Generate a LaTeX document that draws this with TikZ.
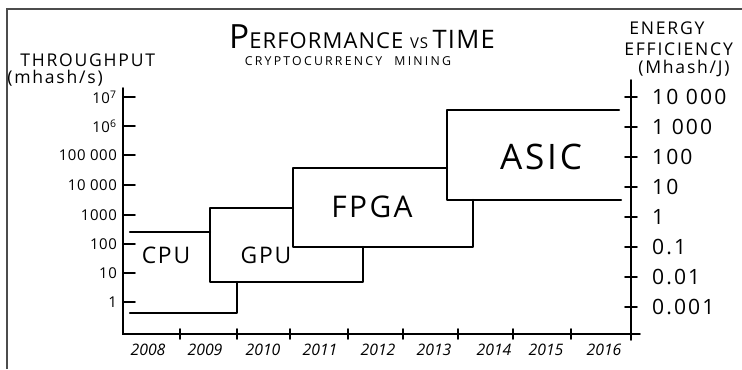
\documentclass[tikz,border=0pt]{standalone}
\usepackage{fontspec}
\setmainfont{Open Sans}
\usetikzlibrary{calc}

\tikzset{
  hand/.style={line width=1.3pt,line cap=round,line join=round},
  axis/.style={line width=0.9pt,line cap=round},
  ylab/.style={anchor=east,inner sep=1pt,font=\fontsize{8.5}{9}\selectfont\addfontfeatures{LetterSpace=4}},
  elab/.style={anchor=west,inner sep=1pt,font=\fontsize{12}{12}\selectfont\addfontfeatures{LetterSpace=10}},
  yearlab/.style={inner sep=1pt,font=\fontsize{9}{10}\selectfont\itshape},
  chip/.style={inner sep=0pt,font=\fontsize{#1}{#1}\selectfont\addfontfeatures{LetterSpace=8}},
  head/.style={inner sep=0pt,align=center,font=\fontsize{10}{11}\selectfont\addfontfeatures{LetterSpace=10}}
}

\begin{document}
\begin{tikzpicture}[x=0.02cm,y=-0.02cm]
  \useasboundingbox (0,0) rectangle (742,369);
  \draw[line width=0.6pt,black!70](7,369)--(7,9)--(742,9);

  % axes
  \coordinate(L)at(123,88);
  \coordinate(O)at(123,334);
  \coordinate(R)at(640,334);
  \coordinate(T)at(631,80);
  \coordinate(B)at(631,340);
  \draw[axis](L)--(O)--(R) (T)--(B);

  % left axis: throughput
  \foreach \y/\t [count=\i] in {97/10\textsuperscript{7},126/10\textsuperscript{6},155/100 000,
      185/10 000,215/1000,244/100,273/10,302/1}{
    \draw[axis](123,\y)--(135,\y);
    \node[ylab](tl\i)at(119,\y){\t};
  }
  % right axis: energy efficiency
  \foreach \y/\t [count=\i] in {97/10 000,127/1 000,157/100,187/10,217/1,247/0.1,277/0.01,307/0.001}{
    \draw[axis](625,\y)--(637,\y);
    \node[elab](el\i)at(650,\y){\t};
  }
  % time axis
  \foreach \x in {180,237,290,348,403,458,513,571}
    \draw[axis](\x,329)--(\x,339);
  \foreach \x/\t [count=\i] in {148/2008,205/2009,263/2010,320/2011,378/2012,434/2013,494/2014,546/2015,604/2016}
    \node[yearlab](yr\i)at(\x,350){\t};

  % steps
  \draw[hand](130,232)--(210,232);
  \draw[hand](130,313)--(237,313)--(237,282);
  \draw[hand](293,208)--(210,208)--(210,282)--(363,282)--(363,247);
  \draw[hand](447,168)--(293,168)--(293,247)--(473,247)--(473,200);
  \draw[hand](619,110)--(447,110)--(447,200)--(621,200);
  \node[chip=13](cpu)at(166,255){CPU};
  \node[chip=13](gpu)at(266,255){GPU};
  \node[chip=17](fpga)at(372,207){FPGA};
  \node[chip=20](asic)at(541,157){ASIC};

  % titles
  \node[inner sep=0pt,anchor=base,font=\addfontfeatures{LetterSpace=5}](title)at(362,48)
    {\fontsize{19}{19}\selectfont P\fontsize{12.5}{13}\selectfont ERFORMANCE\ \fontsize{8.5}{9}\selectfont VS\ \fontsize{14.5}{15}\selectfont TIME};
  \node[inner sep=0pt,font=\fontsize{7}{8}\selectfont\addfontfeatures{LetterSpace=18}](sub)at(348,61)
    {CRYPTOCURRENCY\quad MINING};
  \node[head,anchor=west](thr)at(20,60){THROUGHPUT};
  \node[head,anchor=west](thrunit)at(7,78){(mhash/s)};
  \node[head,anchor=west](en1)at(629,28){ENERGY};
  \node[head,anchor=west](en2)at(624,49){EFFICIENCY};
  \node[head,anchor=west](en3)at(638,68){(Mhash/J)};
\end{tikzpicture}
\end{document}
